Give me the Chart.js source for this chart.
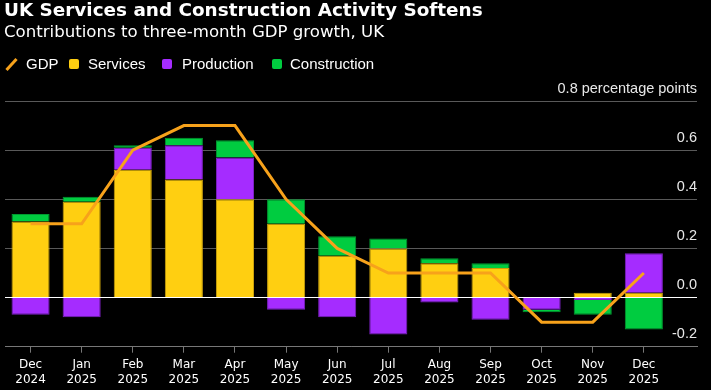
<!DOCTYPE html>
<html>
<head>
<meta charset="utf-8">
<script src="https://cdn.jsdelivr.net/npm/chart.js@4.4.1/dist/chart.umd.min.js"></script>
<style>
  html, body { margin: 0; padding: 0; background: #000; }
  #wrap { position: relative; width: 711px; height: 390px; overflow: hidden; }
  #chart { position: absolute; left: 0; top: 0; }
  .txt { position: absolute; color: #fff; white-space: nowrap; }
  #title { left: 4px; top: 0; font: bold 18.4px/20px "DejaVu Sans", sans-serif; }
  #subtitle { left: 4px; top: 22px; font: 16.6px/20px "DejaVu Sans", sans-serif; }
  .leg { position: absolute; top: 55px; color: #fff; font: 15px/18px "Liberation Sans", Arial, sans-serif; }
  .sq { position: absolute; top: 59px; width: 10px; height: 10px; border-radius: 2px; }
  #gdpIcon { position: absolute; left: 4px; top: 63px; width: 15px; height: 3px; background: #f7a21b; transform: rotate(-48deg); }
</style>
</head>
<body>
<div id="wrap">
  <canvas id="chart" width="711" height="390"></canvas>
  <div id="title" class="txt">UK Services and Construction Activity Softens</div>
  <div id="subtitle" class="txt">Contributions to three-month GDP growth, UK</div>
  <div id="gdpIcon"></div>
  <div class="leg" style="left:26px">GDP</div>
  <div class="sq" style="left:69px;background:#ffcf11"></div>
  <div class="leg" style="left:88px">Services</div>
  <div class="sq" style="left:162px;background:#a52cff"></div>
  <div class="leg" style="left:182px">Production</div>
  <div class="sq" style="left:272px;background:#00cc40"></div>
  <div class="leg" style="left:290px">Construction</div>
</div>
<script>
  // Values (percentage points)
  const months = ['Dec', 'Jan', 'Feb', 'Mar', 'Apr', 'May', 'Jun', 'Jul', 'Aug', 'Sep', 'Oct', 'Nov', 'Dec'];
  const years = ['2024', '2025', '2025', '2025', '2025', '2025', '2025', '2025', '2025', '2025', '2025', '2025', '2025'];
  const services = [0.31, 0.39, 0.52, 0.48, 0.40, 0.30, 0.17, 0.20, 0.14, 0.12, 0.00, 0.02, 0.02];
  const production = [-0.07, -0.08, 0.09, 0.14, 0.17, -0.05, -0.08, -0.15, -0.02, -0.09, -0.05, -0.01, 0.16];
  const construction = [0.03, 0.02, 0.01, 0.03, 0.07, 0.10, 0.08, 0.04, 0.02, 0.02, -0.01, -0.06, -0.13];
  const gdp = [0.3, 0.3, 0.6, 0.7, 0.7, 0.4, 0.2, 0.1, 0.1, 0.1, -0.1, -0.1, 0.1];
  const yTicks = [-0.2, 0, 0.2, 0.4, 0.6, 0.8];

  const toPoints = arr => arr.map((v, i) => ({ x: i, y: v }));

  const ctx = document.getElementById('chart').getContext('2d');
  const chart = new Chart(ctx, {
    data: {
      datasets: [
        {
          type: 'line',
          label: 'GDP',
          data: toPoints(gdp),
          borderColor: '#f7a21b',
          borderWidth: 3,
          pointRadius: 0,
          tension: 0,
          order: 0
        },
        {
          type: 'bar',
          label: 'Services',
          data: toPoints(services),
          backgroundColor: '#ffcf11',
          borderColor: '#c9a00c',
          borderWidth: 1,
          order: 1
        },
        {
          type: 'bar',
          label: 'Production',
          data: toPoints(production),
          backgroundColor: '#a52cff',
          borderColor: '#7d20c4',
          borderWidth: 1,
          order: 1
        },
        {
          type: 'bar',
          label: 'Construction',
          data: toPoints(construction),
          backgroundColor: '#00cc40',
          borderColor: '#009a30',
          borderWidth: 1,
          order: 1
        }
      ]
    },
    options: {
      responsive: false,
      animation: false,
      devicePixelRatio: 1,
      categoryPercentage: 0.745,
      barPercentage: 1,
      layout: { padding: { left: 5, right: 14, top: 101, bottom: 2 } },
      plugins: {
        legend: { display: false },
        tooltip: { enabled: false }
      },
      scales: {
        x: {
          type: 'linear',
          stacked: true,
          offset: false,
          min: -0.5,
          max: 13.04,
          afterBuildTicks: scale => {
            scale.ticks = months.map((m, i) => ({ value: i }));
          },
          afterFit: scale => {
            scale.height = 41.3;
          },
          grid: { drawOnChartArea: false, offset: false, color: '#777', tickLength: 6 },
          border: { color: '#777' },
          ticks: {
            autoSkip: false,
            maxRotation: 0,
            padding: 5,
            color: '#fff',
            font: { family: 'DejaVu Sans', size: 12, lineHeight: 1.25 },
            callback: value => [months[value], years[value]]
          }
        },
        y: {
          position: 'right',
          stacked: true,
          min: -0.2,
          max: 0.8,
          afterBuildTicks: scale => {
            scale.ticks = yTicks.map(v => ({ value: v }));
          },
          grid: {
            drawTicks: false,
            color: c => (c.tick && c.tick.value === 0 ? '#ffffff' : '#595959')
          },
          border: { display: false },
          ticks: {
            mirror: true,
            padding: 0,
            labelOffset: -12.5,
            color: '#e8e8e8',
            font: { family: 'Liberation Sans', size: 14.5 },
            callback: value => value === 0.8 ? '0.8 percentage points' : value.toFixed(1)
          }
        }
      }
    }
  });
</script>
</body>
</html>
